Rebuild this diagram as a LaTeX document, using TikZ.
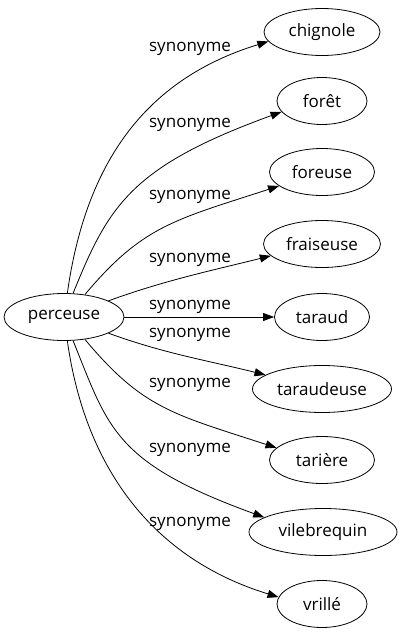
\documentclass[tikz,border=0pt]{standalone}
\usepackage{fontspec}
\setmainfont{Open Sans}
\usetikzlibrary{shapes.geometric,arrows.meta}
\begin{document}
\begin{tikzpicture}[x=1pt,y=1pt,
  word/.style={draw, ellipse, line width=0.8pt, minimum height=47pt, inner sep=0pt, font=\fontsize{17}{20}\selectfont},
  rel/.style={font=\fontsize{17}{20}\selectfont, inner sep=0pt},
  edge/.style={line width=0.8pt, -{Triangle[length=11pt,width=8pt]}}]
\useasboundingbox (0,0) rectangle (402,-635);
\node[word, minimum width=120pt] (perceuse) at (64,-317) {perceuse};
\node[word, minimum width=116pt] (chignole) at (322,-32) {chignole};
\node[word, minimum width=90pt] (foret) at (322,-101) {forêt};
\node[word, minimum width=105pt] (foreuse) at (322,-172) {foreuse};
\node[word, minimum width=117pt] (fraiseuse) at (322,-244) {fraiseuse};
\node[word, minimum width=95pt] (taraud) at (322,-317) {taraud};
\node[word, minimum width=139pt] (taraudeuse) at (322,-389) {taraudeuse};
\node[word, minimum width=105pt] (tariere) at (322,-460) {tarière};
\node[word, minimum width=148pt] (vilebrequin) at (323,-532) {vilebrequin};
\node[word, minimum width=90pt] (vrille) at (322,-604) {vrillé};
\draw[edge] (perceuse.82) .. controls +(82:130) and +(197:130) .. (chignole.190);
\draw[edge] (perceuse.69) .. controls +(68:95) and +(200:160) .. (foret.195);
\draw[edge] (perceuse.47) .. controls +(50:90) and +(198:110) .. (foreuse.198);
\draw[edge] (perceuse.20) .. controls +(20:60) and +(194:60) .. (fraiseuse.193);
\draw[edge] (perceuse) -- (taraud);
\draw[edge] (perceuse.-20) .. controls +(-20:60) and +(166:60) .. (taraudeuse.166);
\draw[edge] (perceuse.-47) .. controls +(-50:90) and +(162:110) .. (tariere.165);
\draw[edge] (perceuse.-69) .. controls +(-68:95) and +(160:160) .. (vilebrequin.166);
\draw[edge] (perceuse.-82) .. controls +(-82:130) and +(163:130) .. (vrille.171);
\node[rel] (l1) at (190,-49) {synonyme};
\node[rel] (l2) at (190,-125) {synonyme};
\node[rel] (l3) at (190,-197) {synonyme};
\node[rel] (l4) at (190,-260) {synonyme};
\node[rel] (l5) at (190,-307) {synonyme};
\node[rel] (l6) at (190,-335) {synonyme};
\node[rel] (l7) at (190,-385) {synonyme};
\node[rel] (l8) at (190,-450) {synonyme};
\node[rel] (l9) at (190,-524) {synonyme};
\end{tikzpicture}
\end{document}
